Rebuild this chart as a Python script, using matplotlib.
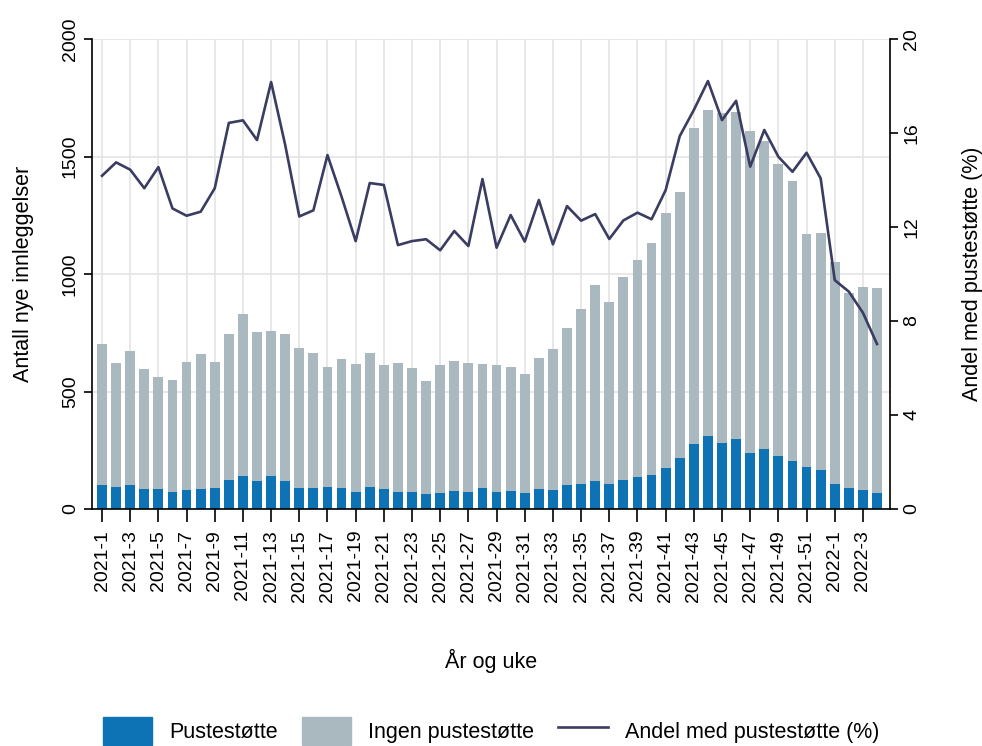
import matplotlib
matplotlib.use("Agg")
import matplotlib.pyplot as plt
from matplotlib.patches import Patch
from matplotlib.lines import Line2D
import numpy as np

plt.rcParams['font.family'] = ['Liberation Sans', 'DejaVu Sans']

weeks = [f"2021-{i}" for i in range(1, 53)] + [f"2022-{i}" for i in range(1, 5)]

pustestotte = [102, 94, 101, 84, 84, 74, 81, 85, 88, 125, 140, 121, 140, 118, 88, 88,
               94, 88, 74, 94, 87, 72, 72, 65, 70, 77, 72, 89, 72, 78, 68, 87, 79, 102,
               108, 121, 105, 123, 136, 143, 174, 217, 278, 312, 281, 298, 238, 255, 224,
               203, 180, 167, 106, 88, 81, 69]

ingen_pustestotte = [600, 526, 573, 512, 476, 475, 546, 573, 538, 621, 691, 634, 616, 627,
                     598, 576, 512, 550, 543, 571, 526, 548, 529, 480, 544, 551, 549, 527,
                     542, 525, 508, 556, 600, 670, 743, 831, 777, 866, 924, 987, 1084, 1131,
                     1342, 1387, 1403, 1393, 1372, 1311, 1243, 1194, 990, 1006, 946, 833,
                     864, 870]

andel = [14.18, 14.75, 14.44, 13.65, 14.55, 12.79, 12.48, 12.65, 13.65, 16.43, 16.54, 15.70,
         18.17, 15.49, 12.45, 12.71, 15.06, 13.29, 11.40, 13.87, 13.79, 11.23, 11.40, 11.48,
         11.01, 11.83, 11.19, 14.04, 11.12, 12.51, 11.38, 13.15, 11.26, 12.89, 12.27, 12.55,
         11.49, 12.28, 12.61, 12.33, 13.57, 15.87, 16.98, 18.21, 16.55, 17.37, 14.57, 16.13,
         14.99, 14.35, 15.16, 14.07, 9.74, 9.25, 8.35, 7.02]

tick_labels = weeks[::2]

c_blue = "#0d73b4"
c_gray = "#aab8c0"
c_line = "#3a3c62"
c_grid = "#e4e4e4"

fig = plt.figure(figsize=(9.82, 7.46), dpi=100)
ax = fig.add_axes([0.0937, 0.3177, 0.8126, 0.630])
x = np.arange(len(weeks))

ax.bar(x, pustestotte, width=0.7, color=c_blue, zorder=2)
ax.bar(x, ingen_pustestotte, width=0.7, bottom=pustestotte, color=c_gray, zorder=2)

ax.set_xlim(-0.71, len(weeks) - 1 + 0.92)
ax.set_ylim(0, 2000)
ax.set_yticks([0, 500, 1000, 1500, 2000])
ax.set_xticks(x[::2])
ax.set_xticklabels(tick_labels, rotation=90, fontsize=14)
ax.tick_params(axis='y', labelsize=14, labelrotation=90, length=6, width=1.2)
ax.tick_params(axis='x', length=9, width=1.2, pad=6)
for lbl in ax.get_yticklabels():
    lbl.set_va('center')
ax.set_axisbelow(True)
ax.grid(True, color=c_grid, linewidth=1.2, zorder=0)
ax.spines['top'].set_visible(False)
ax.spines['right'].set_visible(False)
for s in ['left', 'bottom']:
    ax.spines[s].set_linewidth(1.2)
ax.set_ylabel("Antall nye innleggelser", fontsize=15.5, labelpad=20)
ax.set_xlabel("År og uke", fontsize=15.5, labelpad=34)

ax2 = ax.twinx()
ax2.plot(x, andel, color=c_line, linewidth=1.9, zorder=3)
ax2.set_ylim(0, 20)
ax2.set_yticks([0, 4, 8, 12, 16, 20])
ax2.tick_params(axis='y', labelsize=14, labelrotation=90, length=6, width=1.2)
for lbl in ax2.get_yticklabels():
    lbl.set_va('center')
ax2.spines['top'].set_visible(False)
ax2.spines['left'].set_visible(False)
ax2.spines['bottom'].set_visible(False)
ax2.spines['right'].set_linewidth(1.2)
ax2.set_ylabel("Andel med pustestøtte (%)", fontsize=15.5, labelpad=30)

handles = [Patch(color=c_blue), Patch(color=c_gray), Line2D([0], [0], color=c_line, linewidth=1.9)]
labels = ["Pustestøtte", "Ingen pustestøtte", "Andel med pustestøtte (%)"]
fig.legend(handles, labels, loc='lower center', bbox_to_anchor=(0.5, -0.024), ncol=3,
           frameon=False, fontsize=15.5, handlelength=2.3, handleheight=1.6,
           columnspacing=1.1, handletextpad=0.8)

fig.savefig("out.png", dpi=100)
